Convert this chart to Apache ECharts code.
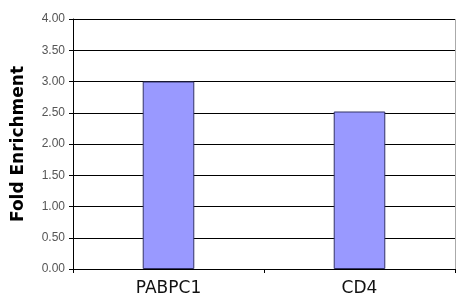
<!DOCTYPE html>
<html>
<head>
<meta charset="utf-8">
<script src="https://cdn.jsdelivr.net/npm/echarts@6/dist/echarts.min.js"></script>
<style>
  html, body { margin: 0; padding: 0; background: #fff; }
  #chart { width: 465px; height: 306px; }
</style>
</head>
<body>
<div id="chart"></div>
<script>
const categories = ['PABPC1', 'CD4']
const foldEnrichment = [3.00, 2.52]

var chart = echarts.init(document.getElementById('chart'))
chart.setOption({
  animation: false,
  grid: { left: 73, right: 10, top: 19, bottom: 37 },
  xAxis: {
    type: 'category',
    data: categories,
    axisLine: { lineStyle: { color: '#000', width: 1 } },
    axisTick: { show: true, length: 4, lineStyle: { color: '#000' } },
    axisLabel: { color: '#111', fontSize: 17, fontFamily: 'DejaVu Sans', margin: 11 },
    splitLine: { show: false }
  },
  yAxis: {
    type: 'value',
    min: 0,
    max: 4,
    interval: 0.5,
    name: 'Fold Enrichment',
    nameLocation: 'middle',
    nameGap: 46,
    nameTextStyle: { color: '#000', fontSize: 17, fontWeight: 'bold', fontFamily: 'DejaVu Sans' },
    axisLine: { show: true, lineStyle: { color: '#000' } },
    axisTick: { show: true, length: 4, lineStyle: { color: '#000' } },
    axisLabel: {
      color: '#555', fontSize: 12, fontFamily: 'Liberation Sans', margin: 8,
      formatter: v => v.toFixed(2)
    },
    splitLine: { show: true, lineStyle: { color: '#000', width: 1 } }
  },
  series: [{
    type: 'bar',
    data: foldEnrichment,
    barWidth: '27%',
    itemStyle: { color: '#9999FF', borderColor: '#333366', borderWidth: 1 }
  }],
  graphic: [{
    type: 'line',
    shape: { x1: 455.5, y1: 19, x2: 455.5, y2: 269 },
    style: { stroke: '#aaa', lineWidth: 1 }
  }]
})
</script>
</body>
</html>
